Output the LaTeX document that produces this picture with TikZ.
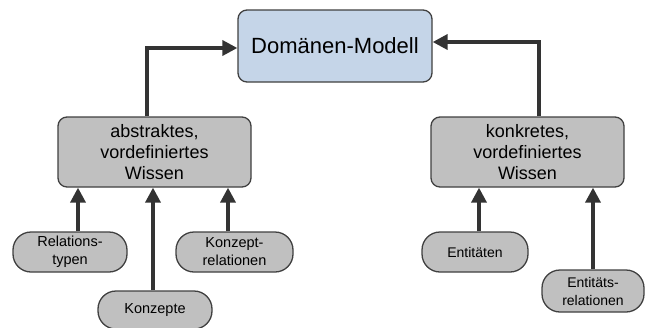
\documentclass[tikz,border=0pt]{standalone}
\usepackage{fontspec}
\setmainfont{Liberation Sans}
\usetikzlibrary{arrows.meta}
\definecolor{modellblau}{HTML}{C5D5E8}
\definecolor{wissengrau}{HTML}{C0C0C0}
\definecolor{rand}{HTML}{404040}
\definecolor{pfeil}{HTML}{333333}

\begin{document}
\begin{tikzpicture}[x=1pt, y=-1pt,
    box/.style = {draw=rand, line width=1.3pt, fill=wissengrau, rounded corners=9pt,
        align=center, inner sep=0pt, font=\fontsize{18}{21}\selectfont},
    blatt/.style = {draw=rand, line width=1.3pt, fill=wissengrau, rounded corners=18pt,
        align=center, inner sep=0pt, font=\fontsize{14.5}{18}\selectfont},
    pf/.style = {draw=pfeil, line width=3.5pt, -{Triangle[length=15pt, width=15pt]}}]
\useasboundingbox (0,0) rectangle (645,327);
\node[box, fill=modellblau, minimum width=194pt, minimum height=72pt,
    font=\fontsize{22}{26}\selectfont] (modell) at (335,46) {Domänen-Modell};
\node[box, minimum width=193pt, minimum height=70pt] (abstrakt) at (154.5,152)
    {abstraktes,\\vordefiniertes\\Wissen};
\node[box, minimum width=193pt, minimum height=70pt] (konkret) at (527.5,152)
    {konkretes,\\vordefiniertes\\Wissen};
\node[blatt, minimum width=114pt, minimum height=40pt] (reltyp) at (70,252) {Relations-\\typen};
\node[blatt, minimum width=114pt, minimum height=38pt] (konzept) at (155,310) {Konzepte};
\node[blatt, minimum width=117pt, minimum height=40pt] (konrel) at (234.5,252) {Konzept-\\relationen};
\node[blatt, minimum width=106pt, minimum height=40pt, font=\fontsize{14}{18}\selectfont] (entit) at (475,252) {Entitäten};
\node[blatt, minimum width=102pt, minimum height=42pt, font=\fontsize{14}{18}\selectfont] (entrel) at (593,291) {Entitäts-\\relationen};
% Pfeile
\draw[pf] (abstrakt.north -| 147,0) |- (modell.west |- 0,48);
\draw[pf] (konkret.north -| 539,0) |- (modell.east |- 0,42);
\draw[pf] (reltyp.north -| 78,0) -- (abstrakt.south -| 78,0);
\draw[pf] (konzept.north -| 153,0) -- (abstrakt.south -| 153,0);
\draw[pf] (konrel.north -| 228,0) -- (abstrakt.south -| 228,0);
\draw[pf] (entit.north -| 479,0) -- (konkret.south -| 479,0);
\draw[pf] (entrel.north -| 593,0) -- (konkret.south -| 593,0);
\end{tikzpicture}
\end{document}
